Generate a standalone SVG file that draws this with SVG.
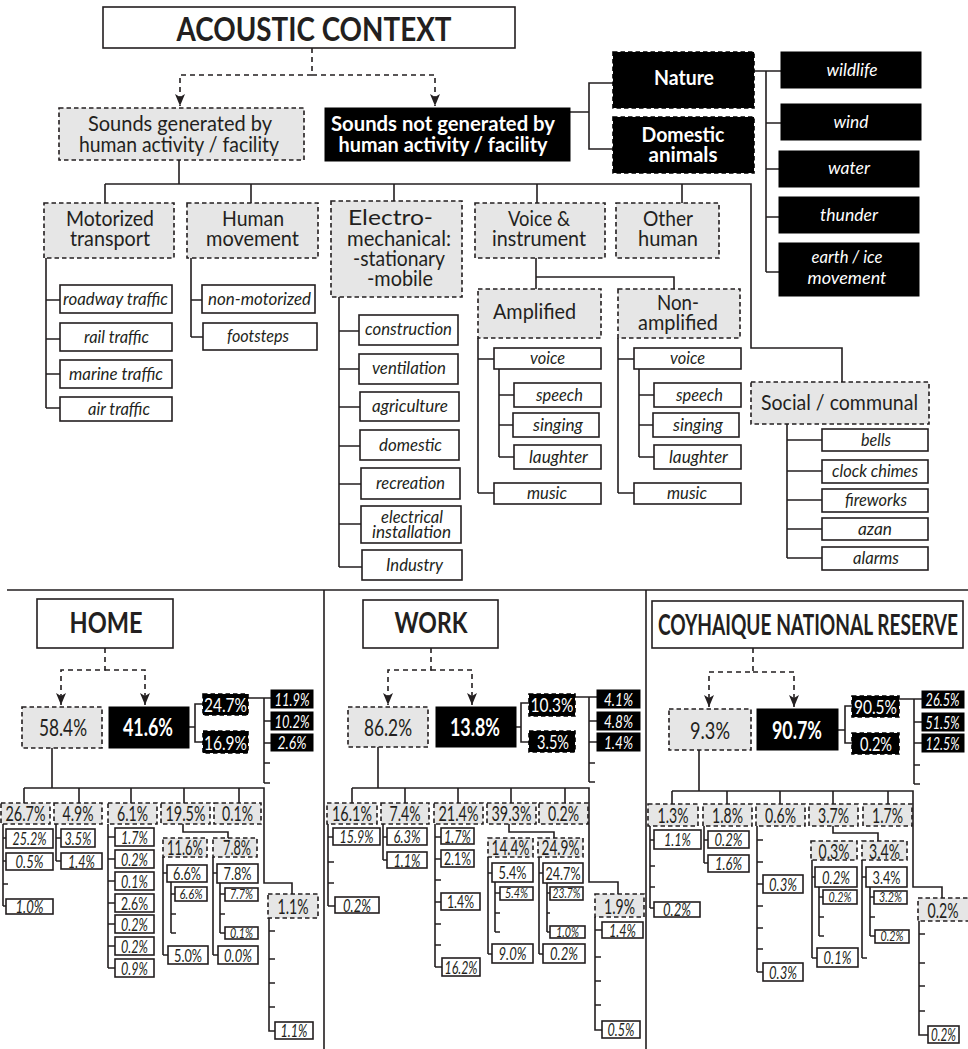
<svg xmlns="http://www.w3.org/2000/svg" width="968" height="1049" viewBox="0 0 968 1049">
<defs>
<style>
.b{fill:#fff;stroke:#231f20;stroke-width:1.6}
.g{fill:#e6e6e6;stroke:#231f20;stroke-width:1.6;stroke-dasharray:4.5 3}
.k{fill:#000;stroke:#000;stroke-width:1.6;stroke-dasharray:4.5 3}
.ks{fill:#000;stroke:#000;stroke-width:1}
.c{fill:none;stroke:#231f20;stroke-width:1.6}
.d{fill:none;stroke:#231f20;stroke-width:1.6;stroke-dasharray:5 4}
text{font-family:Lato,'Liberation Sans',sans-serif;text-anchor:middle;fill:#231f20}
.T{font-size:33px;font-weight:bold}
.H{font-size:28px;font-weight:bold}
.h{font-size:21px}
.i{font-size:17px;font-style:italic}
.w{fill:#fff}
.bd{font-weight:bold}
.m{font-size:24px}
.p{font-size:21px}
.pb{font-size:20px;fill:#fff}
.s{font-size:18px;font-style:italic}
.su{font-size:18px}
.t{font-size:14px;font-style:italic}
.wi{font-size:17px;font-style:italic;fill:#fff}
.wp{font-size:18px;font-style:italic;fill:#fff}
</style>
<marker id="ar" markerWidth="12" markerHeight="10" refX="12" refY="5" orient="auto" markerUnits="userSpaceOnUse">
<path d="M0,0 L12,5 L0,10 L3,5 z" fill="#231f20"/>
</marker>
</defs>
<rect width="968" height="1049" fill="#fff"/>

<g id="connectors">
<path class="d" d="M312,48 V75 H180 V106" marker-end="url(#ar)"/>
<path class="d" d="M312,75 H435 V106" marker-end="url(#ar)"/>
<path class="c" d="M570,112 H589 M613,83 H589 V149 H613"/>
<path class="c" d="M754,71 H781 M766,71 V272 M766,123 H781 M766,169 H779 M766,217 H779 M766,272 H779"/>
<path class="c" d="M179,160 V184 M105,184 H751 V348 H842 V382 M105,184 V203 M251,184 V203 M394,184 V201 M537,184 V203 M682,184 V203"/>
<path class="c" d="M46,258 V408 M46,300 H60 M46,339 H60 M46,374 H60 M46,408 H60"/>
<path class="c" d="M191,258 V337 M191,300 H202 M191,337 H203"/>
<path class="c" d="M339,297 V567 M339,331 H359 M339,369 H359 M339,407 H360 M339,446 H360 M339,484 H361 M339,524 H361 M339,567 H362"/>
<path class="c" d="M536,258 V277 H674 V289 M536,277 V289"/>
<path class="c" d="M478,338 V493 M478,359 H494 M478,493 H494 M499,369 V457 M499,395 H514 M499,425 H513 M499,457 H514"/>
<path class="c" d="M618,338 V493 M618,359 H634 M618,493 H634 M639,369 V457 M639,395 H654 M639,425 H653 M639,457 H654"/>
<path class="c" d="M787,424 V558 M787,440 H822 M787,471 H822 M787,500 H822 M787,529 H822 M787,558 H822"/>
<path class="c" d="M7,590 H968 M324,590 V1049 M646,590 V1049"/>
<path class="d" d="M105,648 V670 H61 V705" marker-end="url(#ar)"/>
<path class="d" d="M105,670 H145 V705" marker-end="url(#ar)"/>
<path class="c" d="M189,727 H195 M203,704 H195 V742 H203"/>
<path class="c" d="M248,698 H271 M264,698 V783 M264,721 H271 M264,743 H271 M264,763 H270 M264,783 H270"/>
<path class="c" d="M52,748 V788 M24,788 H264 V883 H292 V894 M24,788 V803 M79,788 V803 M131,788 V803 M184,788 V803 M239,788 V803"/>
<path class="c" d="M3,824 V906 M3,838 H6 M3,861 H6 M3,884 H8 M3,906 H6"/>
<path class="c" d="M56,824 V861 M56,838 H61 M56,861 H61"/>
<path class="c" d="M108,824 V968 M108,837 H115 M108,859 H115 M108,881 H115 M108,903 H115 M108,924 H115 M108,946 H115 M108,968 H115"/>
<path class="c" d="M183,824 V832 H228 V838"/>
<path class="c" d="M163,857 V955 M163,873 H167 M163,955 H168 M171,882 V933 M171,894 H175 M171,914 H176 M171,933 H176"/>
<path class="c" d="M213,857 V955 M213,873 H217 M213,955 H218 M220,883 V933 M220,894 H225 M220,914 H225 M220,933 H225"/>
<path class="c" d="M269,918 V1031 H275 M269,931 H275 M269,959 H275 M269,983 H275 M269,1007 H275"/>
<path class="d" d="M431,648 V670 H388 V705" marker-end="url(#ar)"/>
<path class="d" d="M431,670 H472 V705" marker-end="url(#ar)"/>
<path class="c" d="M516,727 H521 M529,703 H521 V742 H529"/>
<path class="c" d="M575,697 H597 M589,697 V782 M589,721 H597 M589,742 H597 M589,763 H595 M589,782 H595"/>
<path class="c" d="M378,747 V788 M352,788 H589 V882 H618 V894 M352,788 V803 M405,788 V803 M458,788 V803 M511,788 V803 M565,788 V803"/>
<path class="c" d="M328,824 V906 M328,837 H333 M328,862 H334 M328,883 H334 M328,906 H335"/>
<path class="c" d="M383,824 V860 M383,837 H387 M383,860 H387"/>
<path class="c" d="M435,824 V967 M435,837 H441 M435,859 H441 M435,880 H441 M435,902 H441 M435,924 H441 M435,945 H441 M435,967 H442"/>
<path class="c" d="M509,824 V832 H554 V838"/>
<path class="c" d="M488,857 V954 M488,873 H492 M488,954 H492 M495,882 V932 M495,893 H500 M495,913 H500 M495,932 H500"/>
<path class="c" d="M539,857 V954 M539,873 H543 M539,954 H543 M547,883 V932 M547,893 H550 M547,913 H550 M547,932 H550"/>
<path class="c" d="M595,917 V1030 H602 M595,930 H602 M595,957 H601 M595,981 H601 M595,1005 H601"/>
<path class="d" d="M753,648 V672 H709 V707" marker-end="url(#ar)"/>
<path class="d" d="M753,672 H794 V707" marker-end="url(#ar)"/>
<path class="c" d="M838,730 H845 M852,706 H845 V743 H852"/>
<path class="c" d="M899,699 H922 M914,699 V784 M914,722 H922 M914,743 H922 M914,765 H920 M914,784 H920"/>
<path class="c" d="M699,750 V791 M672,791 H913 V887 H942 V898 M672,791 V804 M727,791 V804 M780,791 V804 M833,791 V804 M888,791 V804"/>
<path class="c" d="M650,826 V908 M650,840 H654 M650,866 H655 M650,887 H655 M650,908 H654"/>
<path class="c" d="M704,826 V863 M704,840 H708 M704,863 H708"/>
<path class="c" d="M757,826 V972 M757,840 H763 M757,862 H763 M757,884 H763 M757,906 H763 M757,928 H763 M757,949 H763 M757,972 H763"/>
<path class="c" d="M833,826 V833 H878 V841"/>
<path class="c" d="M812,860 V958 M812,877 H815 M812,958 H817 M819,887 V936 M819,897 H823 M819,917 H824 M819,936 H824"/>
<path class="c" d="M862,860 V958 M862,877 H866 M862,958 H867 M870,887 V936 M870,897 H874 M870,917 H875 M870,936 H875"/>
<path class="c" d="M919,921 V1035 H928 M919,934 H925 M919,963 H925 M919,986 H925 M919,1011 H925"/>
</g>

<g id="acoustic-context"><rect class="b" x="103" y="7" width="412" height="41"/><text class="T" x="314" y="41" textLength="275" lengthAdjust="spacingAndGlyphs">ACOUSTIC CONTEXT</text></g>
<g id="human-sounds"><rect class="g" x="59" y="108" width="245" height="52"/><text class="h" x="180" y="131" textLength="184" lengthAdjust="spacingAndGlyphs">Sounds generated by</text><text class="h" x="179" y="152" textLength="200" lengthAdjust="spacingAndGlyphs">human activity / facility</text></g>
<g id="nonhuman-sounds"><rect class="ks" x="325" y="108" width="245" height="53"/><text class="h bd w" x="443" y="131" textLength="224" lengthAdjust="spacingAndGlyphs">Sounds not generated by</text><text class="h bd w" x="443" y="152" textLength="209" lengthAdjust="spacingAndGlyphs">human activity / facility</text></g>
<g id="nature"><rect class="k" x="613" y="52" width="141" height="56"/><text class="h bd w" x="684" y="85" textLength="60" lengthAdjust="spacingAndGlyphs">Nature</text></g>
<g id="domestic-animals"><rect class="k" x="613" y="117" width="141" height="56"/><text class="h bd w" x="683" y="142" textLength="83" lengthAdjust="spacingAndGlyphs">Domestic</text><text class="h bd w" x="683" y="162" textLength="69" lengthAdjust="spacingAndGlyphs">animals</text></g>
<g id="wildlife"><rect class="ks" x="781" y="52" width="140" height="36"/><text class="wi" x="852" y="76" textLength="51" lengthAdjust="spacingAndGlyphs">wildlife</text></g>
<g id="wind"><rect class="ks" x="781" y="104" width="140" height="36"/><text class="wi" x="851" y="128" textLength="35" lengthAdjust="spacingAndGlyphs">wind</text></g>
<g id="water"><rect class="ks" x="779" y="151" width="140" height="36"/><text class="wi" x="849" y="174" textLength="42" lengthAdjust="spacingAndGlyphs">water</text></g>
<g id="thunder"><rect class="ks" x="779" y="197" width="140" height="36"/><text class="wi" x="849" y="221" textLength="58" lengthAdjust="spacingAndGlyphs">thunder</text></g>
<g id="earth-ice"><rect class="ks" x="779" y="243" width="140" height="53"/><text class="wi" x="847" y="263" textLength="71" lengthAdjust="spacingAndGlyphs">earth / ice</text><text class="wi" x="847" y="284" textLength="79" lengthAdjust="spacingAndGlyphs">movement</text></g>

<g id="motorized"><rect class="g" x="44" y="203" width="130" height="55"/><text class="h" x="110" y="226" textLength="88" lengthAdjust="spacingAndGlyphs">Motorized</text><text class="h" x="110" y="246" textLength="80" lengthAdjust="spacingAndGlyphs">transport</text></g>
<g id="human-movement"><rect class="g" x="187" y="203" width="131" height="55"/><text class="h" x="253" y="226" textLength="62" lengthAdjust="spacingAndGlyphs">Human</text><text class="h" x="252.5" y="246" textLength="93" lengthAdjust="spacingAndGlyphs">movement</text></g>
<g id="electro"><rect class="g" x="331" y="201" width="131" height="96"/><text class="h" x="390.5" y="225" textLength="85" lengthAdjust="spacingAndGlyphs">Electro-</text><text class="h" x="399" y="246" textLength="104" lengthAdjust="spacingAndGlyphs">mechanical:</text><text class="h" x="399" y="266" textLength="92" lengthAdjust="spacingAndGlyphs">-stationary</text><text class="h" x="400" y="286" textLength="66" lengthAdjust="spacingAndGlyphs">-mobile</text></g>
<g id="voice-instrument"><rect class="g" x="475" y="203" width="130" height="55"/><text class="h" x="539" y="226" textLength="62" lengthAdjust="spacingAndGlyphs">Voice &amp;</text><text class="h" x="539" y="246" textLength="94" lengthAdjust="spacingAndGlyphs">instrument</text></g>
<g id="other-human"><rect class="g" x="616" y="203" width="103" height="55"/><text class="h" x="668" y="226" textLength="50" lengthAdjust="spacingAndGlyphs">Other</text><text class="h" x="668" y="246" textLength="60" lengthAdjust="spacingAndGlyphs">human</text></g>

<g id="roadway"><rect class="b" x="60" y="285" width="112" height="28"/><text class="i" x="115.5" y="305" textLength="105" lengthAdjust="spacingAndGlyphs">roadway traffic</text></g>
<g id="rail"><rect class="b" x="60" y="323" width="112" height="28"/><text class="i" x="116.5" y="343" textLength="65" lengthAdjust="spacingAndGlyphs">rail traffic</text></g>
<g id="marine"><rect class="b" x="60" y="360" width="112" height="28"/><text class="i" x="116" y="380" textLength="94" lengthAdjust="spacingAndGlyphs">marine traffic</text></g>
<g id="air"><rect class="b" x="60" y="397" width="112" height="24"/><text class="i" x="119" y="415" textLength="62" lengthAdjust="spacingAndGlyphs">air traffic</text></g>
<g id="non-motorized"><rect class="b" x="202" y="285" width="113" height="28"/><text class="i" x="259.5" y="305" textLength="103" lengthAdjust="spacingAndGlyphs">non-motorized</text></g>
<g id="footsteps"><rect class="b" x="203" y="323" width="114" height="27"/><text class="i" x="258" y="342" textLength="62" lengthAdjust="spacingAndGlyphs">footsteps</text></g>

<g id="construction"><rect class="b" x="359" y="315" width="99" height="30"/><text class="i" x="408.5" y="335" textLength="87" lengthAdjust="spacingAndGlyphs">construction</text></g>
<g id="ventilation"><rect class="b" x="359" y="354" width="99" height="30"/><text class="i" x="409" y="374" textLength="74" lengthAdjust="spacingAndGlyphs">ventilation</text></g>
<g id="agriculture"><rect class="b" x="360" y="392" width="99" height="29"/><text class="i" x="410" y="412" textLength="76" lengthAdjust="spacingAndGlyphs">agriculture</text></g>
<g id="domestic"><rect class="b" x="360" y="430" width="99" height="30"/><text class="i" x="410.5" y="451" textLength="63" lengthAdjust="spacingAndGlyphs">domestic</text></g>
<g id="recreation"><rect class="b" x="361" y="468" width="99" height="31"/><text class="i" x="410.5" y="489" textLength="69" lengthAdjust="spacingAndGlyphs">recreation</text></g>
<g id="electrical"><rect class="b" x="361" y="506" width="100" height="37"/><text class="i" x="412" y="523" textLength="62" lengthAdjust="spacingAndGlyphs">electrical</text><text class="i" x="411.5" y="538" textLength="79" lengthAdjust="spacingAndGlyphs">installation</text></g>
<g id="industry"><rect class="b" x="362" y="550" width="100" height="30"/><text class="i" x="414.5" y="571" textLength="57" lengthAdjust="spacingAndGlyphs">Industry</text></g>

<g id="amplified"><rect class="g" x="478" y="289" width="123" height="49"/><text class="h" x="534.5" y="319" textLength="83" lengthAdjust="spacingAndGlyphs">Amplified</text></g>
<g id="non-amplified"><rect class="g" x="618" y="289" width="122" height="49"/><text class="h" x="678" y="310" textLength="42" lengthAdjust="spacingAndGlyphs">Non-</text><text class="h" x="678" y="330" textLength="80" lengthAdjust="spacingAndGlyphs">amplified</text></g>
<g id="a-voice"><rect class="b" x="494" y="348" width="107" height="21"/><text class="i" x="547.5" y="364" textLength="35" lengthAdjust="spacingAndGlyphs">voice</text></g>
<g id="a-speech"><rect class="b" x="514" y="383" width="87" height="24"/><text class="i" x="559.5" y="401" textLength="47" lengthAdjust="spacingAndGlyphs">speech</text></g>
<g id="a-singing"><rect class="b" x="513" y="413" width="86" height="24"/><text class="i" x="558" y="431" textLength="50" lengthAdjust="spacingAndGlyphs">singing</text></g>
<g id="a-laughter"><rect class="b" x="514" y="445" width="87" height="24"/><text class="i" x="558.5" y="463" textLength="59" lengthAdjust="spacingAndGlyphs">laughter</text></g>
<g id="a-music"><rect class="b" x="494" y="483" width="107" height="21"/><text class="i" x="547" y="499" textLength="40" lengthAdjust="spacingAndGlyphs">music</text></g>
<g id="n-voice"><rect class="b" x="634" y="348" width="107" height="21"/><text class="i" x="687.5" y="364" textLength="35" lengthAdjust="spacingAndGlyphs">voice</text></g>
<g id="n-speech"><rect class="b" x="654" y="383" width="87" height="24"/><text class="i" x="699.5" y="401" textLength="47" lengthAdjust="spacingAndGlyphs">speech</text></g>
<g id="n-singing"><rect class="b" x="653" y="413" width="86" height="24"/><text class="i" x="698" y="431" textLength="50" lengthAdjust="spacingAndGlyphs">singing</text></g>
<g id="n-laughter"><rect class="b" x="654" y="445" width="87" height="24"/><text class="i" x="698.5" y="463" textLength="59" lengthAdjust="spacingAndGlyphs">laughter</text></g>
<g id="n-music"><rect class="b" x="634" y="483" width="107" height="21"/><text class="i" x="687" y="499" textLength="40" lengthAdjust="spacingAndGlyphs">music</text></g>

<g id="social"><rect class="g" x="751" y="382" width="178" height="42"/><text class="h" x="839.5" y="410" textLength="157" lengthAdjust="spacingAndGlyphs">Social / communal</text></g>
<g id="bells"><rect class="b" x="822" y="429" width="106" height="22"/><text class="i" x="876" y="446" textLength="30" lengthAdjust="spacingAndGlyphs">bells</text></g>
<g id="clock"><rect class="b" x="822" y="460" width="106" height="23"/><text class="i" x="875" y="477" textLength="86" lengthAdjust="spacingAndGlyphs">clock chimes</text></g>
<g id="fireworks"><rect class="b" x="822" y="489" width="106" height="23"/><text class="i" x="876" y="506" textLength="62" lengthAdjust="spacingAndGlyphs">fireworks</text></g>
<g id="azan"><rect class="b" x="822" y="518" width="106" height="22"/><text class="i" x="875" y="535" textLength="34" lengthAdjust="spacingAndGlyphs">azan</text></g>
<g id="alarms"><rect class="b" x="822" y="547" width="106" height="23"/><text class="i" x="876" y="564" textLength="46" lengthAdjust="spacingAndGlyphs">alarms</text></g>

<g id="home"><rect class="b" x="37" y="599" width="136" height="49"/><text class="H" x="106" y="633" textLength="73" lengthAdjust="spacingAndGlyphs">HOME</text></g>
<g id="h-human"><rect class="g" x="22" y="707" width="80" height="41"/><text class="m" x="63" y="736" textLength="48" lengthAdjust="spacingAndGlyphs">58.4%</text></g>
<g id="h-nonhuman"><rect class="ks" x="109" y="707" width="80" height="41"/><text class="m bd w" x="148" y="736" textLength="50" lengthAdjust="spacingAndGlyphs">41.6%</text></g>
<g id="h-nature"><rect class="k" x="203" y="694" width="45" height="21"/><text class="pb" x="225.5" y="712" textLength="43" lengthAdjust="spacingAndGlyphs">24.7%</text></g>
<g id="h-domestic"><rect class="k" x="203" y="731" width="45" height="22"/><text class="pb" x="225.5" y="750" textLength="43" lengthAdjust="spacingAndGlyphs">16.9%</text></g>
<g id="h-wildlife"><rect class="ks" x="271" y="690" width="42" height="18"/><text class="wp" x="292" y="705.5" textLength="35" lengthAdjust="spacingAndGlyphs">11.9%</text></g>
<g id="h-wind"><rect class="ks" x="271" y="712" width="42" height="18"/><text class="wp" x="292" y="727.5" textLength="35" lengthAdjust="spacingAndGlyphs">10.2%</text></g>
<g id="h-water"><rect class="ks" x="271" y="734" width="42" height="17"/><text class="wp" x="292" y="749" textLength="29" lengthAdjust="spacingAndGlyphs">2.6%</text></g>
<g id="h-motorized"><rect class="g" x="1" y="803" width="49" height="21"/><text class="p" x="25.5" y="821" textLength="40" lengthAdjust="spacingAndGlyphs">26.7%</text></g>
<g id="h-movement"><rect class="g" x="54" y="803" width="48" height="21"/><text class="p" x="78" y="821" textLength="31" lengthAdjust="spacingAndGlyphs">4.9%</text></g>
<g id="h-electro"><rect class="g" x="108" y="803" width="49" height="21"/><text class="p" x="132.5" y="821" textLength="31" lengthAdjust="spacingAndGlyphs">6.1%</text></g>
<g id="h-voice"><rect class="g" x="161" y="803" width="49" height="21"/><text class="p" x="185.5" y="821" textLength="40" lengthAdjust="spacingAndGlyphs">19.5%</text></g>
<g id="h-other"><rect class="g" x="214" y="803" width="47" height="21"/><text class="p" x="237.5" y="821" textLength="31" lengthAdjust="spacingAndGlyphs">0.1%</text></g>
<g id="h-roadway"><rect class="b" x="6" y="829" width="47" height="19"/><text class="s" x="29.5" y="845" textLength="34" lengthAdjust="spacingAndGlyphs">25.2%</text></g>
<g id="h-rail"><rect class="b" x="6" y="853" width="47" height="17"/><text class="s" x="29.5" y="868" textLength="28" lengthAdjust="spacingAndGlyphs">0.5%</text></g>
<g id="h-air"><rect class="b" x="6" y="899" width="47" height="15"/><text class="s" x="29.5" y="913" textLength="28" lengthAdjust="spacingAndGlyphs">1.0%</text></g>
<g id="h-nonmot"><rect class="b" x="61" y="829" width="34" height="18"/><text class="s" x="78" y="845" textLength="27" lengthAdjust="spacingAndGlyphs">3.5%</text></g>
<g id="h-footsteps"><rect class="b" x="61" y="853" width="41" height="16"/><text class="s" x="81.5" y="868" textLength="27" lengthAdjust="spacingAndGlyphs">1.4%</text></g>
<g id="h-e1"><rect class="b" x="115" y="828" width="39" height="18"/><text class="s" x="134.5" y="843.5" textLength="27" lengthAdjust="spacingAndGlyphs">1.7%</text></g>
<g id="h-e2"><rect class="b" x="115" y="850" width="39" height="18"/><text class="s" x="134.5" y="865.5" textLength="27" lengthAdjust="spacingAndGlyphs">0.2%</text></g>
<g id="h-e3"><rect class="b" x="115" y="872" width="39" height="18"/><text class="s" x="134.5" y="887.5" textLength="27" lengthAdjust="spacingAndGlyphs">0.1%</text></g>
<g id="h-e4"><rect class="b" x="115" y="894" width="39" height="18"/><text class="su" x="134.5" y="909.5" textLength="27" lengthAdjust="spacingAndGlyphs">2.6%</text></g>
<g id="h-e5"><rect class="b" x="115" y="915" width="39" height="18"/><text class="s" x="134.5" y="930.5" textLength="27" lengthAdjust="spacingAndGlyphs">0.2%</text></g>
<g id="h-e6"><rect class="b" x="115" y="937" width="39" height="18"/><text class="s" x="134.5" y="952.5" textLength="27" lengthAdjust="spacingAndGlyphs">0.2%</text></g>
<g id="h-e7"><rect class="b" x="115" y="959" width="39" height="18"/><text class="s" x="134.5" y="974.5" textLength="27" lengthAdjust="spacingAndGlyphs">0.9%</text></g>
<g id="h-amplified"><rect class="g" x="163" y="838" width="44" height="19"/><text class="p" x="185" y="855" textLength="36" lengthAdjust="spacingAndGlyphs">11.6%</text></g>
<g id="h-nonamplified"><rect class="g" x="213" y="838" width="44" height="19"/><text class="p" x="237" y="855" textLength="28" lengthAdjust="spacingAndGlyphs">7.8%</text></g>
<g id="h-a-voice"><rect class="b" x="167" y="865" width="40" height="17"/><text class="su" x="187" y="880" textLength="28" lengthAdjust="spacingAndGlyphs">6.6%</text></g>
<g id="h-a-speech"><rect class="b" x="175" y="887" width="32" height="14"/><text class="t" x="191" y="899" textLength="23" lengthAdjust="spacingAndGlyphs">6.6%</text></g>
<g id="h-a-music"><rect class="b" x="168" y="946" width="40" height="18"/><text class="su" x="188" y="961.5" textLength="28" lengthAdjust="spacingAndGlyphs">5.0%</text></g>
<g id="h-n-voice"><rect class="b" x="217" y="864" width="41" height="19"/><text class="su" x="237.5" y="880" textLength="28" lengthAdjust="spacingAndGlyphs">7.8%</text></g>
<g id="h-n-speech"><rect class="b" x="225" y="888" width="33" height="13"/><text class="t" x="241.5" y="899" textLength="23" lengthAdjust="spacingAndGlyphs">7.7%</text></g>
<g id="h-n-laughter"><rect class="b" x="225" y="927" width="33" height="12"/><text class="t" x="241.5" y="938" textLength="23" lengthAdjust="spacingAndGlyphs">0.1%</text></g>
<g id="h-n-music"><rect class="b" x="218" y="946" width="40" height="18"/><text class="s" x="238" y="961.5" textLength="28" lengthAdjust="spacingAndGlyphs">0.0%</text></g>
<g id="h-social"><rect class="g" x="268" y="894" width="50" height="24"/><text class="p" x="293" y="914" textLength="31" lengthAdjust="spacingAndGlyphs">1.1%</text></g>
<g id="h-alarms"><rect class="b" x="275" y="1022" width="38" height="17"/><text class="s" x="294" y="1037" textLength="27" lengthAdjust="spacingAndGlyphs">1.1%</text></g>

<g id="work"><rect class="b" x="363" y="600" width="135" height="48"/><text class="H" x="431" y="633" textLength="73" lengthAdjust="spacingAndGlyphs">WORK</text></g>
<g id="w-human"><rect class="g" x="348" y="707" width="80" height="40"/><text class="m" x="388" y="736" textLength="48" lengthAdjust="spacingAndGlyphs">86.2%</text></g>
<g id="w-nonhuman"><rect class="ks" x="436" y="707" width="80" height="40"/><text class="m bd w" x="475" y="736" textLength="50" lengthAdjust="spacingAndGlyphs">13.8%</text></g>
<g id="w-nature"><rect class="k" x="529" y="694" width="46" height="22"/><text class="pb" x="552" y="712" textLength="43" lengthAdjust="spacingAndGlyphs">10.3%</text></g>
<g id="w-domestic"><rect class="k" x="529" y="731" width="46" height="21"/><text class="pb" x="553" y="749" textLength="32" lengthAdjust="spacingAndGlyphs">3.5%</text></g>
<g id="w-wildlife"><rect class="ks" x="597" y="690" width="43" height="18"/><text class="wp" x="618.5" y="705.5" textLength="29" lengthAdjust="spacingAndGlyphs">4.1%</text></g>
<g id="w-wind"><rect class="ks" x="597" y="712" width="43" height="18"/><text class="wp" x="618.5" y="727.5" textLength="29" lengthAdjust="spacingAndGlyphs">4.8%</text></g>
<g id="w-water"><rect class="ks" x="597" y="733" width="43" height="18"/><text class="wp" x="618.5" y="748.5" textLength="29" lengthAdjust="spacingAndGlyphs">1.4%</text></g>
<g id="w-motorized"><rect class="g" x="327" y="803" width="50" height="21"/><text class="p" x="352" y="821" textLength="40" lengthAdjust="spacingAndGlyphs">16.1%</text></g>
<g id="w-movement"><rect class="g" x="381" y="803" width="48" height="21"/><text class="p" x="405" y="821" textLength="31" lengthAdjust="spacingAndGlyphs">7.4%</text></g>
<g id="w-electro"><rect class="g" x="434" y="803" width="49" height="21"/><text class="p" x="458.5" y="821" textLength="40" lengthAdjust="spacingAndGlyphs">21.4%</text></g>
<g id="w-voice"><rect class="g" x="487" y="803" width="49" height="21"/><text class="p" x="511.5" y="821" textLength="40" lengthAdjust="spacingAndGlyphs">39.3%</text></g>
<g id="w-other"><rect class="g" x="539" y="803" width="49" height="21"/><text class="p" x="563.5" y="821" textLength="31" lengthAdjust="spacingAndGlyphs">0.2%</text></g>
<g id="w-roadway"><rect class="b" x="333" y="828" width="47" height="17"/><text class="s" x="356.5" y="843" textLength="34" lengthAdjust="spacingAndGlyphs">15.9%</text></g>
<g id="w-air"><rect class="b" x="335" y="897" width="44" height="16"/><text class="s" x="357" y="911.5" textLength="28" lengthAdjust="spacingAndGlyphs">0.2%</text></g>
<g id="w-nonmot"><rect class="b" x="387" y="828" width="40" height="17"/><text class="s" x="407" y="843" textLength="27" lengthAdjust="spacingAndGlyphs">6.3%</text></g>
<g id="w-footsteps"><rect class="b" x="387" y="852" width="40" height="16"/><text class="s" x="407" y="866.5" textLength="27" lengthAdjust="spacingAndGlyphs">1.1%</text></g>
<g id="w-e1"><rect class="b" x="441" y="828" width="33" height="16"/><text class="s" x="457.5" y="842.5" textLength="27" lengthAdjust="spacingAndGlyphs">1.7%</text></g>
<g id="w-e2"><rect class="b" x="441" y="850" width="33" height="17"/><text class="su" x="457.5" y="865" textLength="27" lengthAdjust="spacingAndGlyphs">2.1%</text></g>
<g id="w-e4"><rect class="b" x="441" y="893" width="39" height="17"/><text class="su" x="460.5" y="908" textLength="27" lengthAdjust="spacingAndGlyphs">1.4%</text></g>
<g id="w-e7"><rect class="b" x="442" y="958" width="38" height="18"/><text class="s" x="461" y="973.5" textLength="33" lengthAdjust="spacingAndGlyphs">16.2%</text></g>
<g id="w-amplified"><rect class="g" x="488" y="838" width="45" height="19"/><text class="p" x="510.5" y="855" textLength="38" lengthAdjust="spacingAndGlyphs">14.4%</text></g>
<g id="w-nonamplified"><rect class="g" x="538" y="838" width="45" height="19"/><text class="p" x="560.5" y="855" textLength="38" lengthAdjust="spacingAndGlyphs">24.9%</text></g>
<g id="w-a-voice"><rect class="b" x="492" y="863" width="41" height="19"/><text class="su" x="512.5" y="879" textLength="28" lengthAdjust="spacingAndGlyphs">5.4%</text></g>
<g id="w-a-speech"><rect class="b" x="500" y="887" width="33" height="13"/><text class="t" x="516.5" y="898" textLength="23" lengthAdjust="spacingAndGlyphs">5.4%</text></g>
<g id="w-a-music"><rect class="b" x="492" y="944" width="41" height="19"/><text class="s" x="512.5" y="960" textLength="28" lengthAdjust="spacingAndGlyphs">9.0%</text></g>
<g id="w-n-voice"><rect class="b" x="543" y="863" width="40" height="20"/><text class="su" x="563" y="879.5" textLength="35" lengthAdjust="spacingAndGlyphs">24.7%</text></g>
<g id="w-n-speech"><rect class="b" x="550" y="887" width="33" height="13"/><text class="t" x="566.5" y="898" textLength="28" lengthAdjust="spacingAndGlyphs">23.7%</text></g>
<g id="w-n-laughter"><rect class="b" x="550" y="926" width="35" height="12"/><text class="t" x="567.5" y="937" textLength="23" lengthAdjust="spacingAndGlyphs">1.0%</text></g>
<g id="w-n-music"><rect class="b" x="543" y="944" width="42" height="19"/><text class="s" x="564" y="960" textLength="28" lengthAdjust="spacingAndGlyphs">0.2%</text></g>
<g id="w-social"><rect class="g" x="595" y="894" width="49" height="23"/><text class="p" x="619.5" y="913.5" textLength="31" lengthAdjust="spacingAndGlyphs">1.9%</text></g>
<g id="w-bells"><rect class="b" x="602" y="922" width="41" height="16"/><text class="s" x="622.5" y="936.5" textLength="27" lengthAdjust="spacingAndGlyphs">1.4%</text></g>
<g id="w-alarms"><rect class="b" x="602" y="1021" width="38" height="17"/><text class="s" x="621" y="1036" textLength="27" lengthAdjust="spacingAndGlyphs">0.5%</text></g>

<g id="coyhaique"><rect class="b" x="652" y="601" width="311" height="47"/><text class="H" x="808" y="635" textLength="300" lengthAdjust="spacingAndGlyphs">COYHAIQUE NATIONAL RESERVE</text></g>
<g id="c-human"><rect class="g" x="669" y="709" width="82" height="41"/><text class="m" x="710" y="738.5" textLength="40" lengthAdjust="spacingAndGlyphs">9.3%</text></g>
<g id="c-nonhuman"><rect class="ks" x="757" y="709" width="81" height="41"/><text class="m bd w" x="797" y="738.5" textLength="50" lengthAdjust="spacingAndGlyphs">90.7%</text></g>
<g id="c-nature"><rect class="k" x="852" y="696" width="47" height="21"/><text class="pb" x="875.5" y="714" textLength="43" lengthAdjust="spacingAndGlyphs">90.5%</text></g>
<g id="c-domestic"><rect class="k" x="852" y="733" width="47" height="21"/><text class="pb" x="876" y="751" textLength="32" lengthAdjust="spacingAndGlyphs">0.2%</text></g>
<g id="c-wildlife"><rect class="ks" x="922" y="691" width="42" height="17"/><text class="wp" x="942.5" y="706" textLength="34" lengthAdjust="spacingAndGlyphs">26.5%</text></g>
<g id="c-wind"><rect class="ks" x="922" y="713" width="42" height="18"/><text class="wp" x="942.5" y="728.5" textLength="34" lengthAdjust="spacingAndGlyphs">51.5%</text></g>
<g id="c-water"><rect class="ks" x="922" y="734" width="42" height="18"/><text class="wp" x="942.5" y="749.5" textLength="34" lengthAdjust="spacingAndGlyphs">12.5%</text></g>
<g id="c-motorized"><rect class="g" x="648" y="804" width="50" height="22"/><text class="p" x="673" y="823" textLength="31" lengthAdjust="spacingAndGlyphs">1.3%</text></g>
<g id="c-movement"><rect class="g" x="703" y="804" width="49" height="22"/><text class="p" x="727.5" y="823" textLength="31" lengthAdjust="spacingAndGlyphs">1.8%</text></g>
<g id="c-electro"><rect class="g" x="756" y="804" width="49" height="22"/><text class="p" x="780.5" y="823" textLength="31" lengthAdjust="spacingAndGlyphs">0.6%</text></g>
<g id="c-voice"><rect class="g" x="809" y="804" width="49" height="22"/><text class="p" x="833.5" y="823" textLength="31" lengthAdjust="spacingAndGlyphs">3.7%</text></g>
<g id="c-other"><rect class="g" x="863" y="804" width="49" height="22"/><text class="p" x="887.5" y="823" textLength="31" lengthAdjust="spacingAndGlyphs">1.7%</text></g>
<g id="c-roadway"><rect class="b" x="654" y="830" width="47" height="19"/><text class="s" x="677.5" y="846" textLength="27" lengthAdjust="spacingAndGlyphs">1.1%</text></g>
<g id="c-air"><rect class="b" x="654" y="902" width="46" height="15"/><text class="s" x="677" y="916" textLength="28" lengthAdjust="spacingAndGlyphs">0.2%</text></g>
<g id="c-nonmot"><rect class="b" x="708" y="831" width="41" height="17"/><text class="s" x="728.5" y="846" textLength="28" lengthAdjust="spacingAndGlyphs">0.2%</text></g>
<g id="c-footsteps"><rect class="b" x="708" y="855" width="41" height="17"/><text class="s" x="728.5" y="870" textLength="27" lengthAdjust="spacingAndGlyphs">1.6%</text></g>
<g id="c-e3"><rect class="b" x="763" y="875" width="40" height="18"/><text class="s" x="783" y="890.5" textLength="28" lengthAdjust="spacingAndGlyphs">0.3%</text></g>
<g id="c-e7"><rect class="b" x="763" y="963" width="40" height="18"/><text class="s" x="783" y="978.5" textLength="28" lengthAdjust="spacingAndGlyphs">0.3%</text></g>
<g id="c-amplified"><rect class="g" x="811" y="841" width="46" height="19"/><text class="p" x="834" y="858.5" textLength="31" lengthAdjust="spacingAndGlyphs">0.3%</text></g>
<g id="c-nonamplified"><rect class="g" x="862" y="841" width="45" height="19"/><text class="p" x="884.5" y="858.5" textLength="31" lengthAdjust="spacingAndGlyphs">3.4%</text></g>
<g id="c-a-voice"><rect class="b" x="815" y="867" width="42" height="20"/><text class="s" x="836" y="883.5" textLength="28" lengthAdjust="spacingAndGlyphs">0.2%</text></g>
<g id="c-a-speech"><rect class="b" x="823" y="890" width="34" height="14"/><text class="t" x="840" y="902" textLength="23" lengthAdjust="spacingAndGlyphs">0.2%</text></g>
<g id="c-a-music"><rect class="b" x="817" y="948" width="41" height="19"/><text class="s" x="837.5" y="964" textLength="28" lengthAdjust="spacingAndGlyphs">0.1%</text></g>
<g id="c-n-voice"><rect class="b" x="866" y="867" width="41" height="20"/><text class="su" x="886.5" y="883.5" textLength="28" lengthAdjust="spacingAndGlyphs">3.4%</text></g>
<g id="c-n-speech"><rect class="b" x="874" y="891" width="33" height="13"/><text class="t" x="890.5" y="902" textLength="23" lengthAdjust="spacingAndGlyphs">3.2%</text></g>
<g id="c-n-laughter"><rect class="b" x="875" y="930" width="34" height="13"/><text class="t" x="892" y="941" textLength="23" lengthAdjust="spacingAndGlyphs">0.2%</text></g>
<g id="c-social"><rect class="g" x="918" y="898" width="52" height="23"/><text class="p" x="943" y="917.5" textLength="31" lengthAdjust="spacingAndGlyphs">0.2%</text></g>
<g id="c-alarms"><rect class="b" x="928" y="1026" width="31" height="17"/><text class="s" x="943.5" y="1041" textLength="25" lengthAdjust="spacingAndGlyphs">0.2%</text></g>
</svg>
